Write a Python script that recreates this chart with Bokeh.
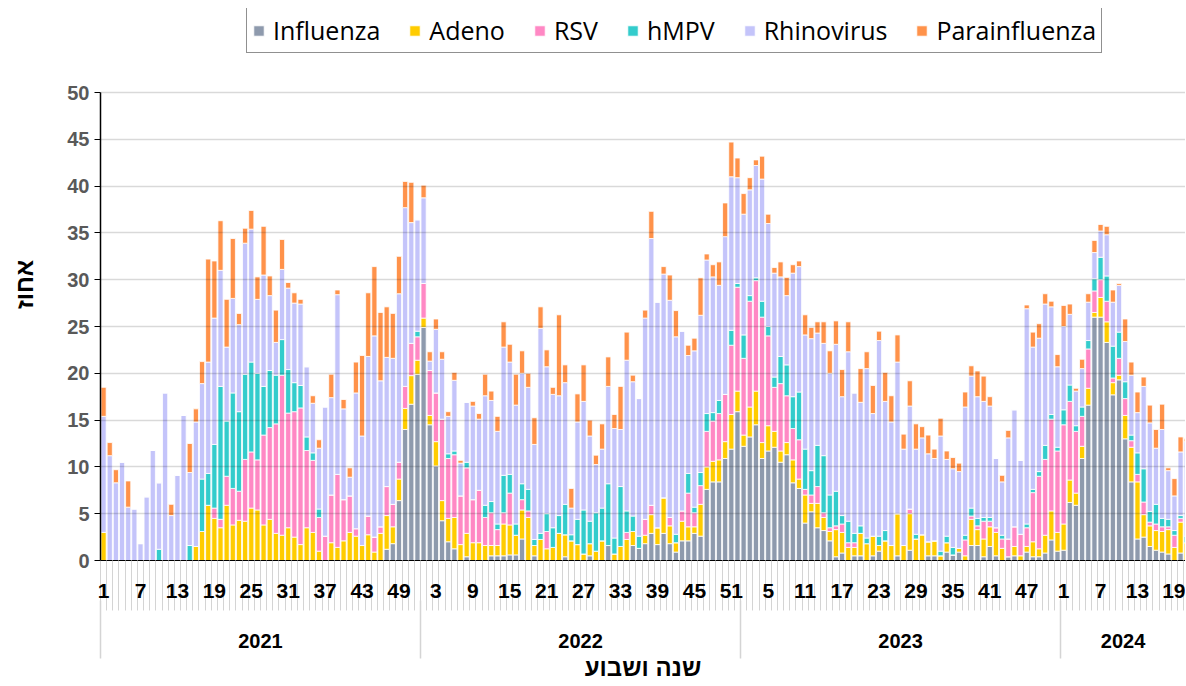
from bokeh.plotting import figure
from bokeh.models import (Range1d, FixedTicker, LinearAxis, Legend, LegendItem,
                          ColumnDataSource)
from bokeh.embed import file_html
from bokeh.resources import INLINE

years = [2021, 2022, 2023, 2024]
weeks_in_year = [52, 52, 52, 21]
y_ticks = [0, 5, 10, 15, 20, 25, 30, 35, 40, 45, 50]

influenza = [0, 0, 0, 0, 0, 0, 0, 0, 0, 0, 0, 0, 0, 0, 0, 0, 0, 0, 0, 0,
             0, 0, 0, 0, 0, 0, 0, 0, 0, 0, 0, 0, 0, 0, 0, 0, 0, 0, 0, 0,
             0, 0, 0, 0, 0, 0, 1.2, 1.8, 6.4, 14.0, 16.7, 19.9, 24.9, 14.5, 10.1, 4.25, 2.0, 1.25, 0, 0.4,
             0, 0, 0, 0.5, 0.5, 0.5, 0.6, 0.6, 2.3, 0, 0.5, 0, 0, 0, 0, 0.4, 0, 0, 0, 0.5,
             0, 0, 1.6, 0, 0, 0, 1.6, 1.3, 1.8, 2.9, 1.7, 2.9, 1.8, 0.9, 2.1, 2.1, 2.9, 2.6, 7.6, 8.4,
             8.4, 10.9, 11.9, 15.9, 12.2, 13.2, 14.5, 10.9, 11.7, 12.1, 10.5, 11.3, 8.3, 7.7, 4.0, 5.2, 3.5, 3.2, 2.1, 0.4,
             0.8, 0, 0.5, 0.5, 0, 0.5, 1.0, 0, 0, 0.5, 0, 1.1, 0, 0, 0.5, 0.5, 0, 0.9, 0.6, 0.9,
             0, 1.6, 1.6, 0.4, 1.5, 0.5, 0, 0.4, 0.5, 0, 0.9, 0.4, 0.4, 0.8, 2.2, 1.0, 1.1, 6.2, 5.9, 10.9,
             16.6, 26.0, 26.0, 23.3, 17.7, 19.3, 13.0, 8.4, 2.3, 2.5, 1.5, 1.1, 0.9, 0.7, 0, 0.8, 0]
adeno = [3.0, 0, 0, 0, 0, 0, 0, 0, 0, 0, 0, 0, 0, 0, 0, 1.5, 3.1, 5.9, 4.5, 3.5,
         5.9, 3.8, 4.3, 4.2, 5.6, 5.4, 3.8, 4.4, 2.9, 2.7, 3.5, 2.5, 1.7, 3.5, 3.0, 1.0, 0, 1.9, 1.4, 2.1,
         3.0, 2.6, 1.6, 2.75, 0.9, 2.9, 3.6, 1.8, 2.3, 2.25, 3.05, 1.5, 1.0, 1.0, 2.6, 2.15, 2.5, 3.35, 1.7, 2.5,
         1.9, 1.9, 1.6, 1.1, 1.1, 3.4, 3.2, 2.1, 3.1, 4.6, 1.1, 2.25, 1.25, 1.4, 2.9, 2.35, 2.1, 1.7, 0.7, 1.3,
         1.0, 2.1, 0, 0.7, 1.5, 2.25, 1.5, 0, 0.9, 2.0, 1.8, 3.8, 1.9, 1.0, 2.1, 1.5, 0.7, 3.4, 2.4, 2.2,
         2.35, 1.8, 3.7, 2.2, 1.2, 3.2, 3.6, 1.7, 2.7, 1.7, 1.2, 1.3, 2.45, 1.0, 3.0, 0.9, 2.6, 1.4, 1.0, 2.9,
         2.2, 1.4, 0.9, 2.4, 1.8, 2.1, 0.6, 2.1, 1.6, 4.5, 1.6, 3.9, 2.3, 2.75, 1.5, 1.6, 0.5, 1.0, 0, 0.4,
         0.5, 2.8, 1.7, 1.9, 2.1, 2.5, 1.3, 0, 1.0, 0.5, 0.6, 1.6, 0.85, 1.9, 3.1, 2.0, 2.8, 2.4, 1.3, 1.3,
         1.8, 0.5, 2.1, 2.2, 1.3, 0.5, 2.5, 3.7, 6.1, 2.4, 2.2, 2.1, 2.2, 2.6, 1.4, 3.3, 1.9]
rsv = [0, 0, 0, 0, 0, 0, 0, 0, 0, 0, 0, 0, 0, 0, 0, 0, 0, 0, 1.1, 0.9,
       3.1, 3.9, 3.1, 6.6, 6.0, 5.35, 9.6, 9.8, 11.7, 17.1, 12.25, 13.4, 14.6, 8.25, 7.7, 3.6, 2.6, 5.1, 7.8, 4.4,
       3.9, 0.8, 0, 2.0, 1.6, 0.7, 3.1, 2.4, 1.8, 2.35, 3.45, 2.5, 3.7, 4.8, 5.2, 8.7, 6.4, 6.7, 5.2, 7.0,
       4.6, 5.6, 3.0, 3.5, 1.7, 1.2, 3.4, 0, 1.1, 0.7, 0, 0, 1.85, 0, 0, 0, 0, 0, 0, 0,
       0, 0, 0, 0, 0, 0.75, 0, 0, 1.7, 1.0, 0, 0, 0.9, 0, 1.1, 3.6, 1.5, 2.0, 3.8, 4.3,
       4.95, 5.05, 7.4, 11.1, 8.2, 11.3, 11.8, 13.4, 9.6, 4.7, 7.2, 5.0, 3.35, 4.2, 0.6, 0.9, 1.8, 0.5, 0.4, 0.4,
       0.9, 0.5, 0.5, 0, 0, 0, 0, 0, 0, 0, 0, 0.5, 0, 0, 0, 0, 0, 0, 0, 0,
       1.7, 0.35, 0.4, 1.9, 0.6, 0.5, 1.0, 1.9, 2.1, 2.3, 2.0, 5.25, 7.75, 8.1, 9.8, 8.7, 10.6, 8.4, 6.6, 3.2,
       4.2, 2.3, 1.9, 2.2, 0.5, 1.8, 1.8, 0.7, 0.8, 1.35, 0.4, 0.7, 0.5, 0.3, 1.3, 0.4, 0]
hmpv = [0, 0, 0, 0, 0, 0, 0, 0, 0, 1.2, 0, 0, 0, 0, 1.6, 0, 5.6, 3.4, 6.8, 14.2,
        5.9, 10.2, 8.5, 9.1, 9.6, 9.25, 5.2, 6.1, 5.2, 3.8, 4.65, 3.1, 2.4, 1.45, 0.8, 0.9, 0, 0, 0, 0,
        0, 0, 0, 0, 0, 0, 0, 0, 0, 0, 0, 0.6, 0, 0, 0, 0, 0.5, 0.4, 0, 0.6,
        0, 0, 1.3, 1.2, 0.6, 4.0, 2.0, 1.2, 1.7, 2.3, 0.65, 0.65, 1.9, 2.1, 1.9, 3.25, 0.65, 2.7, 4.7, 2.4,
        4.1, 3.5, 6.6, 1.7, 6.4, 2.3, 1.65, 1.3, 0, 0, 0, 0, 0, 0.9, 0, 2.1, 0.6, 1.4, 1.9, 0.9,
        1.4, 0, 1.6, 0.4, 2.5, 0.6, 0.3, 1.7, 1.0, 1.1, 2.9, 3.3, 3.4, 5.1, 4.3, 2.6, 4.4, 6.1, 3.5, 3.7,
        0.9, 2.3, 1.0, 0.8, 0.6, 0, 1.0, 1.1, 0, 0, 0, 0, 0.5, 0, 0, 0, 0.5, 0.7, 0.8, 0,
        0.5, 0.85, 0.8, 0.4, 0.4, 0, 0.4, 0, 0, 0, 0.4, 0.35, 0.5, 1.5, 0.5, 0.4, 1.6, 1.75, 0.6, 1.0,
        0.9, 1.3, 2.4, 2.7, 3.4, 2.8, 1.8, 0.6, 2.3, 3.55, 1.15, 2.1, 0.9, 0.8, 0.5, 0.3, 0.7]
rhinovirus = [12.4, 11.2, 8.3, 10.5, 5.7, 5.5, 1.8, 6.8, 11.75, 7.1, 17.9, 4.8, 9.1, 15.5, 7.8, 13.3, 10.2, 11.9, 13.5, 12.4,
              7.9, 10.1, 9.3, 14.0, 14.2, 7.9, 11.9, 8.0, 3.5, 7.5, 8.7, 8.5, 8.7, 7.5, 5.3, 6.5, 13.8, 10.4, 19.2, 9.7,
              2.0, 14.5, 11.7, 17.05, 21.5, 15.6, 13.8, 15.6, 18.0, 19.1, 12.9, 11.9, 9.15, 1.0, 6.8, 6.4, 4.0, 7.55, 3.5, 6.4,
              10.0, 7.6, 11.7, 10.8, 9.9, 13.7, 12.0, 12.7, 11.8, 10.9, 10.15, 21.9, 15.7, 14.25, 12.8, 13.0, 2.85, 10.4, 11.6, 9.1,
              5.15, 6.3, 10.4, 11.7, 6.1, 16.1, 14.35, 14.7, 21.5, 28.5, 24.1, 23.9, 23.2, 21.1, 19.2, 12.6, 16.7, 16.8, 16.4, 14.5,
              12.3, 16.85, 16.4, 11.3, 12.9, 11.3, 12.0, 13.05, 11.0, 11.1, 8.5, 7.4, 13.2, 13.4, 12.2, 14.1, 12.0, 12.0, 13.0, 15.7,
              12.7, 18.1, 15.0, 13.2, 18.1, 13.1, 20.9, 13.8, 13.2, 16.2, 10.3, 11.0, 9.1, 10.35, 9.4, 8.8, 12.3, 8.2, 8.4, 8.2,
              13.7, 14.1, 13.0, 12.4, 11.9, 7.4, 5.7, 10.8, 12.5, 7.9, 23.0, 15.2, 14.25, 15.1, 11.5, 8.6, 8.9, 7.55, 3.7, 4.1,
              4.1, 2.8, 2.8, 4.4, 4.7, 5.0, 4.3, 6.4, 4.3, 8.8, 9.45, 6.0, 9.5, 5.2, 3.7, 6.8, 10.1]
parainfluenza = [3.1, 1.4, 1.4, 0, 2.8, 0, 0, 0, 0, 0, 0, 1.2, 0, 0, 3.1, 1.4, 2.35, 11.0, 6.1, 5.3,
                 5.1, 6.4, 1.2, 1.6, 2.0, 2.4, 5.2, 2.1, 3.45, 3.2, 0.6, 1.1, 0.5, 0, 0.8, 0.9, 0, 2.5, 0.5, 1.0,
                 1.0, 3.3, 8.6, 6.8, 7.4, 7.3, 5.4, 4.8, 4.0, 2.8, 4.3, 0, 1.35, 1.0, 1.1, 0.8, 0.5, 0.85, 0.3, 0,
                 0.5, 0.6, 2.3, 1.0, 1.6, 2.7, 1.9, 3.3, 2.4, 1.5, 2.85, 2.3, 1.8, 0.75, 8.65, 1.9, 2.1, 3.0, 3.9, 1.7,
                 1.0, 2.7, 3.15, 1.5, 4.6, 3.0, 0.7, 0, 0.85, 2.9, 0, 0.8, 2.7, 2.8, 0, 1.1, 1.35, 4.0, 0.65, 1.3,
                 2.5, 3.6, 3.7, 2.1, 2.2, 1.3, 0.6, 2.45, 1.0, 0.6, 1.6, 1.95, 0.9, 0.6, 2.15, 1.2, 1.2, 2.3, 2.4, 2.5,
                 2.9, 3.2, 0, 3.6, 1.8, 3.0, 1.0, 3.1, 2.8, 2.9, 1.6, 2.7, 2.7, 1.2, 2.0, 1.0, 1.9, 0.9, 1.2, 0.9,
                 1.6, 1.1, 2.75, 2.7, 1.0, 0, 0.7, 0.8, 0, 0, 0.4, 1.6, 1.55, 1.1, 0.6, 1.3, 2.25, 1.1, 0.3, 1.0,
                 0.9, 1.3, 0.7, 0.9, 1.3, 0.2, 2.4, 1.4, 2.2, 1.0, 1.9, 2.0, 2.7, 0.3, 1.85, 1.6, 0.3]

names = ["Influenza", "Adeno", "RSV", "hMPV", "Rhinovirus", "Parainfluenza"]
colors = ["#8E9AAD", "#FFCC00", "#FF88C4", "#33CCCC", "#C4C4FA", "#FF924A"]

week_labels = []
for y, n in zip(years, weeks_in_year):
    week_labels.extend(range(1, n + 1))
x = list(range(len(week_labels)))

src = ColumnDataSource(dict(x=x, Influenza=influenza, Adeno=adeno, RSV=rsv,
                            hMPV=hmpv, Rhinovirus=rhinovirus, Parainfluenza=parainfluenza))

# frame spans from page y=8 to y=560; value 50 sits at y=92 (9.36 px per unit)
y_top = 50 + (92 - 8) / 9.36
p = figure(width=1185, height=685, output_backend="svg", toolbar_location=None,
           x_range=Range1d(-0.5, 175.8), y_range=Range1d(0, y_top),
           min_border_left=100, min_border_right=0, min_border_top=8, min_border_bottom=125,
           x_axis_type=None, background_fill_color="white", border_fill_color="white")
p.outline_line_color = None

renderers = p.vbar_stack(names, x="x", width=0.84, source=src,
                         fill_color=colors, line_color="white", line_width=0.8)

# y axis
ya = p.yaxis[0]
ya.ticker = FixedTicker(ticks=y_ticks, minor_ticks=[])
ya.bounds = (0, 50)
ya.major_label_text_font = "Liberation Sans"
ya.major_label_text_font_style = "bold"
ya.major_label_text_font_size = "20px"
ya.major_label_text_color = "#595959"
ya.major_tick_out = 6
ya.major_tick_in = 0
ya.minor_tick_out = 0
ya.axis_line_color = "black"
ya.axis_line_width = 1.5
ya.major_tick_line_color = "black"
ya.major_label_standoff = 5
ya.axis_label = "אחוז"
ya.axis_label_text_font = "Liberation Sans"
ya.axis_label_text_font_style = "bold"
ya.axis_label_text_font_size = "24px"
ya.axis_label_text_color = "black"
ya.axis_label_standoff = 26

p.ygrid.ticker = FixedTicker(ticks=y_ticks)
p.ygrid.bounds = (0, 50)
p.ygrid.grid_line_color = "black"
p.ygrid.grid_line_alpha = 0.15
p.ygrid.grid_line_width = 1.5
p.ygrid.level = "overlay"
p.xgrid.visible = False

# week axis
n = len(x)
tick_pos = [i for i in x if i % 6 == 0]
axA = LinearAxis(ticker=FixedTicker(ticks=tick_pos, minor_ticks=[i - 0.5 for i in range(n + 1)]),
                 major_label_overrides={i: str(week_labels[i]) for i in tick_pos})
axA.axis_line_color = "black"
axA.axis_line_width = 1
axA.major_tick_out = 0
axA.major_tick_in = 0
axA.minor_tick_in = 0
axA.minor_tick_out = 50
axA.minor_tick_line_color = "#D4D4D4"
axA.minor_tick_line_width = 1
axA.major_label_standoff = -27
axA.major_label_text_font = "Liberation Sans"
axA.major_label_text_font_style = "bold"
axA.major_label_text_font_size = "21px"
axA.major_label_text_color = "black"
p.add_layout(axA, "below")

# year axis
starts = []
s = 0
for nw in weeks_in_year:
    starts.append(s)
    s += nw
visible_end = 175.8
centers = []
for st, nw in zip(starts, weeks_in_year):
    en = min(st + nw - 0.5, visible_end)
    centers.append((st - 0.5 + en) / 2)
bounds = [st - 0.5 for st in starts]
axB = LinearAxis(ticker=FixedTicker(ticks=centers, minor_ticks=bounds),
                 major_label_overrides={c: str(y) for c, y in zip(centers, years)})
axB.axis_line_color = None
axB.major_tick_out = 0
axB.major_tick_in = 0
axB.minor_tick_in = 0
axB.minor_tick_out = 58
axB.minor_tick_line_color = "#D4D4D4"
axB.minor_tick_line_width = 1.5
axB.major_label_standoff = -25
axB.major_label_text_font = "Liberation Sans"
axB.major_label_text_font_style = "bold"
axB.major_label_text_font_size = "20px"
axB.major_label_text_color = "black"
axB.axis_label = "שנה ושבוע"
axB.axis_label_text_font = "Liberation Sans"
axB.axis_label_text_font_style = "bold"
axB.axis_label_text_font_size = "24px"
axB.axis_label_text_color = "black"
axB.axis_label_standoff = 3
p.add_layout(axB, "below")

items = [LegendItem(label=nm, renderers=[r]) for nm, r in zip(names, renderers)]
legend = Legend(items=items, orientation="horizontal", location=(146, 507))
legend.label_text_font = "Open Sans"
legend.label_text_font_size = "25px"
legend.label_text_color = "black"
legend.glyph_width = 13
legend.glyph_height = 13
legend.label_standoff = 8
legend.spacing = 28
legend.padding = 5
legend.margin = 0
legend.border_line_color = "#222222"
legend.border_line_width = 1.5
legend.background_fill_color = "white"
legend.background_fill_alpha = 1
p.add_layout(legend)

open("out.html", "w").write(file_html(p, INLINE))
